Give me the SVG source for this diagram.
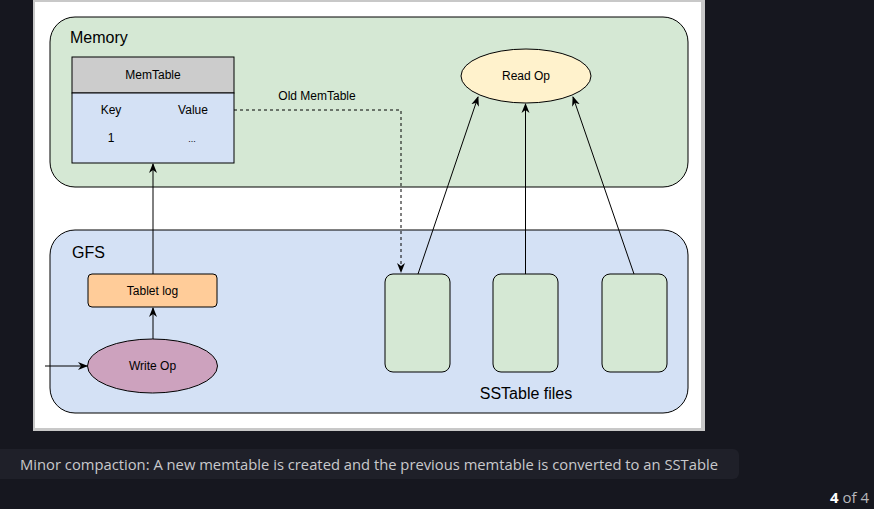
<svg xmlns="http://www.w3.org/2000/svg" width="874" height="509" viewBox="0 0 874 509">
<style>
.t{font-family:"Liberation Sans",Arial,sans-serif;fill:#000;}
.c{text-anchor:middle;}
.s12{font-size:12px;}
.s16{font-size:16px;}
.ln{stroke:#000;stroke-width:1;fill:none;}
.nd{stroke:#000;stroke-width:1;}
.cap{font-family:"Open Sans","Noto Sans",sans-serif;}
</style>
<defs>
<marker id="ah" viewBox="0 0 10 10" refX="9" refY="5" markerWidth="10" markerHeight="10" markerUnits="userSpaceOnUse" orient="auto">
<path d="M0,1 L10,5 L0,9 L3,5 Z" fill="#000"/>
</marker>
</defs>
<rect x="0" y="0" width="874" height="509" fill="#16171f"/>
<rect x="33" y="0" width="672" height="431" fill="#c8c8c8"/>
<rect x="35" y="2" width="666" height="426" fill="#ffffff"/>

<g id="memory">
<rect x="50" y="17" width="638" height="170" rx="25" fill="#d5e8d4" class="nd"/>
<text x="70" y="43" class="t s16">Memory</text>
</g>
<g id="gfs">
<rect x="50" y="230" width="638" height="183" rx="25" fill="#d4e1f5" class="nd"/>
<text x="72" y="258" class="t s16">GFS</text>
<text x="526" y="399" class="t s16 c">SSTable files</text>
</g>

<g id="memtable">
<rect x="72" y="57" width="162" height="36" fill="#cccccc" class="nd"/>
<rect x="72" y="93" width="162" height="70" fill="#d4e1f5" class="nd"/>
<text x="153" y="79" class="t s12 c">MemTable</text>
<text x="111" y="114" class="t s12 c">Key</text>
<text x="193" y="114" class="t s12 c">Value</text>
<text x="111" y="142" class="t s12 c">1</text>
<text x="192" y="142" class="t s12 c" style="font-size:9px">...</text>
</g>

<g id="readop">
<ellipse cx="526" cy="76" rx="65" ry="27" fill="#fff2cc" class="nd"/>
<text x="526" y="80" class="t s12 c">Read Op</text>
</g>

<g id="tabletlog">
<rect x="88" y="274" width="129" height="33" rx="4" fill="#ffcc99" class="nd"/>
<text x="152.5" y="295" class="t s12 c">Tablet log</text>
</g>

<g id="writeop">
<ellipse cx="152.5" cy="366" rx="65" ry="27" fill="#cda2be" class="nd"/>
<text x="152.5" y="370" class="t s12 c">Write Op</text>
</g>

<g id="sstable1"><rect x="385" y="274" width="65" height="98" rx="8" fill="#d5e8d4" class="nd"/></g>
<g id="sstable2"><rect x="493" y="274" width="65" height="98" rx="8" fill="#d5e8d4" class="nd"/></g>
<g id="sstable3"><rect x="602" y="274" width="65" height="98" rx="8" fill="#d5e8d4" class="nd"/></g>

<g id="connectors">
<path d="M234,110 H401 V272" class="ln" stroke-dasharray="3,3" marker-end="url(#ah)"/>
<text x="317" y="100" class="t s12 c">Old MemTable</text>
<path d="M418,274 L478,97" class="ln" marker-end="url(#ah)"/>
<path d="M525.5,274 L525.5,104" class="ln" marker-end="url(#ah)"/>
<path d="M634,274 L573,97" class="ln" marker-end="url(#ah)"/>
<path d="M45,366 L87,366" class="ln" marker-end="url(#ah)"/>
<path d="M153,339 L153,308" class="ln" marker-end="url(#ah)"/>
<path d="M153,274 L153,164" class="ln" marker-end="url(#ah)"/>
</g>

<rect x="-6" y="449" width="745" height="30" rx="6" fill="#1f2029"/>
<text x="20" y="470" class="cap" font-size="15" fill="#c9c9cc" textLength="698" lengthAdjust="spacingAndGlyphs">Minor compaction: A new memtable is created and the previous memtable is converted to an SSTable</text>
<text x="869" y="503" class="cap" font-size="15" text-anchor="end" fill="#b8b8bc"><tspan font-weight="bold" fill="#ffffff">4</tspan> of 4</text>
</svg>
